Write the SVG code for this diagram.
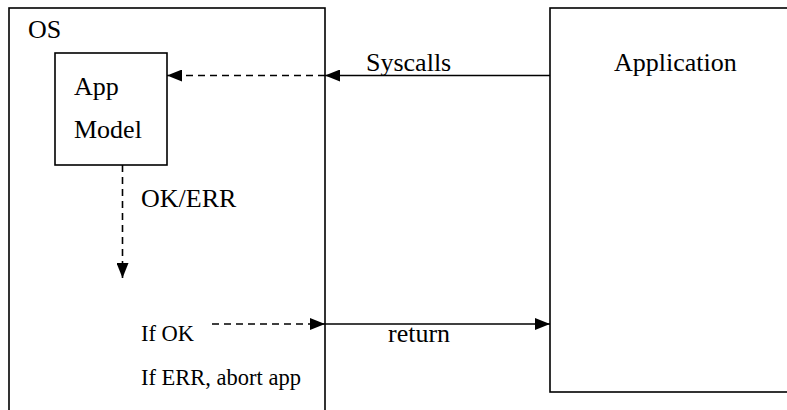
<svg xmlns="http://www.w3.org/2000/svg" width="787" height="410" viewBox="0 0 787 410">
<defs>
<style>
.box{fill:none;stroke:#000;stroke-width:1.6}
text{font-family:'Liberation Serif','Times New Roman',Times,serif;fill:#000}
.t{font-size:26px}
.s{font-size:22.5px}
.ln{fill:none;stroke:#000;stroke-width:1.6}
.dash{stroke-dasharray:7 5}
</style>
<marker id="ah" viewBox="0 0 15 12" refX="15" refY="6" markerWidth="15" markerHeight="12" markerUnits="userSpaceOnUse" orient="auto">
<path d="M0,0 L15,6 L0,12 Z" fill="#000"/>
</marker>
</defs>
<rect width="787" height="410" fill="#fff"/>
<g id="os">
<rect class="box" x="9" y="8" width="316" height="420"/>
<text class="t" x="28" y="37.5">OS</text>
</g>
<g id="app-model">
<rect class="box" x="55" y="53" width="112" height="112"/>
<text class="t" x="74" y="95">App</text>
<text class="t" x="74" y="138">Model</text>
</g>
<g id="application">
<rect class="box" x="550" y="8" width="300" height="384"/>
<text class="t" x="614" y="71">Application</text>
</g>
<g id="labels">
<text class="t" x="141" y="206.5">OK/ERR</text>
<text class="s" x="141" y="341">If OK</text>
<text class="s" x="141" y="385">If ERR, abort app</text>
</g>
<g id="connectors">
<line class="ln" x1="550" y1="75.5" x2="325" y2="75.5" marker-end="url(#ah)"/>
<text class="t" x="366" y="71">Syscalls</text>
<line class="ln dash" x1="325" y1="75.5" x2="167" y2="75.5" marker-end="url(#ah)"/>
<line class="ln dash" x1="122.5" y1="165" x2="122.5" y2="278" marker-end="url(#ah)"/>
<line class="ln dash" x1="212" y1="324" x2="325" y2="324" marker-end="url(#ah)"/>
<line class="ln" x1="325" y1="324" x2="550" y2="324" marker-end="url(#ah)"/>
<text class="t" x="388" y="342">return</text>
</g>
</svg>
